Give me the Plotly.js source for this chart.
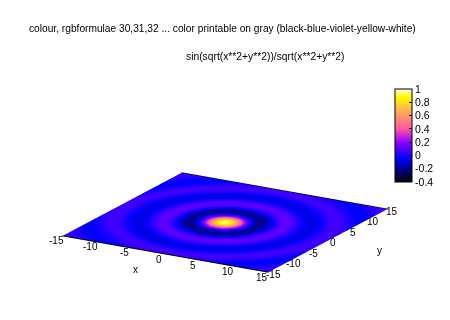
<!DOCTYPE html>
<html><head><meta charset="utf-8">
<script src="https://cdn.plot.ly/plotly-3.0.1.min.js"></script>
<style>html,body{margin:0;padding:0;background:#fff}</style></head>
<body><div id="chart" style="width:450px;height:320px"></div>
<script>
// Coordinates of the sampled grid
const xs = [-15,-14,-13,-12,-11,-10,-9,-8,-7,-6,-5,-4,-3,-2,-1,0,1,2,3,4,5,6,7,8,9,10,11,12,13,14,15];
const ys = xs;
// One quadrant of the surface values read per |x|,|y| (the picture is centred and symmetric)
const quadrant = [
[1,.841,.455,.047,-.189,-.192,-.047,.094,.124,.046,-.054,-.091,-.045,.032,.071,.043],
[.841,.698,.353,-.006,-.202,-.182,-.033,.100,.121,.040,-.059,-.090,-.041,.035,.071,.041],
[.455,.353,.109,-.124,-.217,-.145,.007,.115,.112,.022,-.069,-.088,-.032,.042,.071,.036],
[.047,-.006,-.124,-.211,-.192,-.075,.061,.128,.090,-.007,-.083,-.082,-.016,.053,.069,.025],
[-.189,-.202,-.217,-.192,-.104,.019,.111,.121,.051,-.043,-.091,-.067,.007,.064,.063,.012],
[-.192,-.182,-.145,-.075,.019,.100,.128,.085,-.001,-.075,-.088,-.038,.032,.070,.050,-.007],
[-.047,-.033,.007,.061,.111,.128,.095,.022,-.054,-.091,-.070,-.003,.056,.069,.030,-.027],
[.094,.100,.115,.128,.121,.085,.022,-.046,-.089,-.082,-.029,.035,.070,.055,.004,-.045],
[.124,.121,.112,.090,.051,-.001,-.054,-.089,-.084,-.041,.019,.064,.067,.028,-.025,-.056],
[.046,.040,.022,-.007,-.043,-.075,-.091,-.082,-.041,.013,.058,.070,.043,-.007,-.048,-.056],
[-.054,-.059,-.069,-.083,-.091,-.088,-.070,-.029,.019,.058,.071,.050,.006,-.039,-.058,-.041],
[-.091,-.090,-.088,-.082,-.067,-.038,-.003,.035,.064,.070,.050,.010,-.033,-.057,-.049,-.013],
[-.045,-.041,-.032,-.016,.007,.032,.056,.070,.067,.043,.006,-.033,-.056,-.052,-.021,.019],
[.032,.035,.042,.053,.064,.070,.069,.055,.028,-.007,-.039,-.057,-.052,-.024,.013,.042],
[.071,.071,.071,.069,.063,.050,.030,.004,-.025,-.048,-.058,-.049,-.021,.013,.041,.048],
[.043,.041,.036,.025,.012,-.007,-.027,-.045,-.056,-.056,-.041,-.013,.019,.042,.048,.033]
];
const xTicks = [-15,-10,-5,0,5,10,15];
const yTicks = [-15,-10,-5,0,5,10,15];
const cbTicks = [-0.4,-0.2,0,0.2,0.4,0.6,0.8,1];
const titleTop = 'colour, rgbformulae 30,31,32 ... color printable on gray (black-blue-violet-yellow-white)';
const titleKey = 'sin(sqrt(x**2+y**2))/sqrt(x**2+y**2)';
const colorStops = [
 [0,'rgb(0,0,0)'],[0.1,'rgb(0,0,102)'],[0.25,'rgb(0,0,255)'],[0.42,'rgb(135,0,255)'],
 [0.5,'rgb(199,41,214)'],[0.57,'rgb(255,87,163)'],[0.75,'rgb(255,168,87)'],[0.92,'rgb(255,255,0)'],[1,'rgb(255,255,255)']
];

const color = ys.map(y => xs.map(x => quadrant[Math.abs(y)][Math.abs(x)]));
const flat = ys.map(() => xs.map(() => 0));
const lo = xs[0], hi = xs[xs.length-1];
const font = {family:'"Liberation Sans",Arial,sans-serif', size:10, color:'#000'};

const surface = {
  type:'surface', x:xs, y:ys, z:flat, surfacecolor:color,
  cmin:-0.4, cmax:1, colorscale:colorStops, hoverinfo:'skip',
  lighting:{ambient:1,diffuse:0,specular:0,roughness:1,fresnel:0},
  contours:{x:{show:false},y:{show:false},z:{show:false}},
  colorbar:{
    x:395/450, xanchor:'left', xpad:0, y:138/320, yanchor:'bottom', ypad:0,
    lenmode:'pixels', len:93, thicknessmode:'pixels', thickness:17,
    outlinecolor:'#000', outlinewidth:1, borderwidth:0,
    tickmode:'array', tickvals:cbTicks, ticktext:cbTicks.map(String),
    ticks:'inside', ticklen:3, tickcolor:'#000', tickfont:{...font,size:10.5}
  }
};
const edge = (px,py) => ({type:'scatter3d',mode:'lines',x:px,y:py,z:[0,0],
  line:{color:'#000',width:2},hoverinfo:'skip',showlegend:false});

const noAxis = r => ({range:r,visible:false,showgrid:false,zeroline:false,showspikes:false,showbackground:false,title:{text:''}});
const tickNote = (x,y,text,xshift,yshift) => ({x,y,z:0,text,showarrow:false,xshift,yshift,font,xanchor:'center',yanchor:'middle'});
const annotations = [
  ...xTicks.map(t => tickNote(t,lo,String(t),-6,-5)),
  ...yTicks.map(t => tickNote(hi,t,String(t),5.5,-2)),
  tickNote(0,lo,'x',-30,-15),
  tickNote(hi,0,'y',52,-10)
];
const layout = {
  width:450, height:320, paper_bgcolor:'#fff', showlegend:false,
  margin:{l:0,r:0,t:0,b:0},
  annotations:[
    {xref:'paper',yref:'paper',x:222/450,y:1-28/320,text:titleTop,showarrow:false,font:{...font,size:10.2},xanchor:'center',yanchor:'middle'},
    {xref:'paper',yref:'paper',x:265/450,y:1-56/320,text:titleKey,showarrow:false,font:{...font,size:10.3},xanchor:'center',yanchor:'middle'}
  ],
  scene:{
    domain:{x:[24.5/450,424.5/450],y:[0,195/320]},
    aspectmode:'manual', aspectratio:{x:2.44,y:2.44,z:0.24},
    xaxis:noAxis([lo,hi]), yaxis:noAxis([lo,hi]), zaxis:noAxis([-1,1]),
    camera:{projection:{type:'orthographic'},eye:{x:0.952,y:-1.648,z:0.612},up:{x:0,y:0,z:1},center:{x:0,y:0,z:0}},
    annotations
  }
};
Plotly.newPlot('chart',[surface,edge([lo,hi],[lo,lo]),edge([lo,hi],[hi,hi])],layout,{displayModeBar:false});
</script></body></html>
